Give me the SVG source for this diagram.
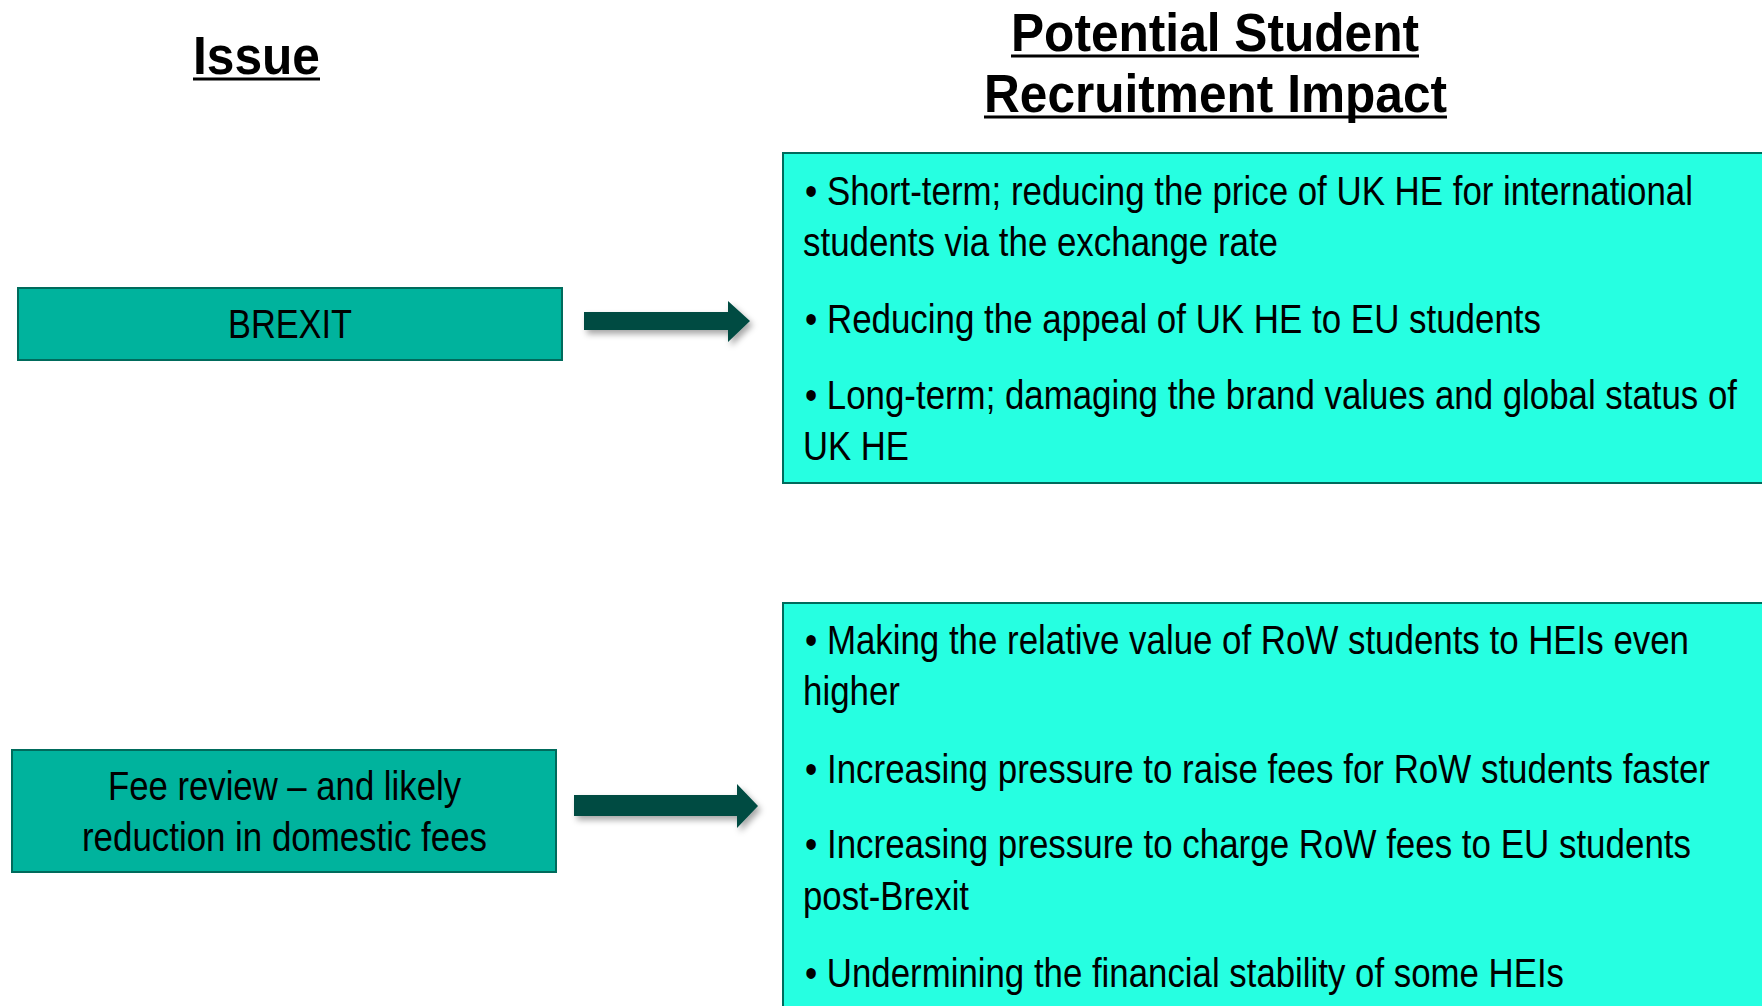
<svg xmlns="http://www.w3.org/2000/svg" width="1762" height="1006" viewBox="0 0 1762 1006">
  <style>
    .title { font-family: "Liberation Sans", Arial, sans-serif; font-weight: bold; font-size: 54px; fill: #000; }
    .uline { stroke: #000; stroke-width: 3; }
    .issue { fill: #00B39D; stroke: #006B5C; stroke-width: 2; }
    .impact { fill: #26FFE1; stroke: #006B5C; stroke-width: 2; }
    .lbl { font-family: "Liberation Sans", Arial, sans-serif; font-size: 41px; fill: #000; }
    .arrow { fill: #004C42; filter: url(#shadow); }
  </style>
  <defs>
    <filter id="shadow" x="-20%" y="-40%" width="140%" height="200%">
      <feDropShadow dx="3" dy="4" stdDeviation="3" flood-color="#000" flood-opacity="0.35"/>
    </filter>
  </defs>
  <rect width="1762" height="1006" fill="#fff"/>

  <!-- column headings -->
  <g id="heading-issue">
    <text class="title" x="193" y="74" textLength="127" lengthAdjust="spacingAndGlyphs">Issue</text>
    <line class="uline" x1="193" y1="79" x2="320" y2="79"/>
  </g>
  <g id="heading-impact">
    <text class="title" x="1011" y="51" textLength="408" lengthAdjust="spacingAndGlyphs">Potential Student</text>
    <line class="uline" x1="1011" y1="56" x2="1419" y2="56"/>
    <text class="title" x="984" y="112" textLength="463" lengthAdjust="spacingAndGlyphs">Recruitment Impact</text>
    <line class="uline" x1="984" y1="117" x2="1447" y2="117"/>
  </g>

  <!-- issue boxes -->
  <g id="issue-brexit">
    <rect class="issue" x="18" y="288" width="544" height="72"/>
    <text class="lbl" x="228" y="338" textLength="124" lengthAdjust="spacingAndGlyphs">BREXIT</text>
  </g>
  <g id="issue-fees">
    <rect class="issue" x="12" y="750" width="544" height="122"/>
    <text class="lbl" x="108" y="800" textLength="353" lengthAdjust="spacingAndGlyphs">Fee review – and likely</text>
    <text class="lbl" x="82" y="851" textLength="405" lengthAdjust="spacingAndGlyphs">reduction in domestic fees</text>
  </g>

  <!-- impact boxes -->
  <g id="impact-brexit">
    <rect class="impact" x="783" y="153" width="990" height="330"/>
    <text class="lbl" x="805" y="205" textLength="888" lengthAdjust="spacingAndGlyphs">• Short-term; reducing the price of UK HE for international</text>
    <text class="lbl" x="803" y="256" textLength="475" lengthAdjust="spacingAndGlyphs">students via the exchange rate</text>
    <text class="lbl" x="805" y="333" textLength="736" lengthAdjust="spacingAndGlyphs">• Reducing the appeal of UK HE to EU students</text>
    <text class="lbl" x="805" y="409" textLength="932" lengthAdjust="spacingAndGlyphs">• Long-term; damaging the brand values and global status of</text>
    <text class="lbl" x="803" y="460" textLength="106" lengthAdjust="spacingAndGlyphs">UK HE</text>
  </g>
  <g id="impact-fees">
    <rect class="impact" x="783" y="603" width="990" height="420"/>
    <text class="lbl" x="805" y="654" textLength="884" lengthAdjust="spacingAndGlyphs">• Making the relative value of RoW students to HEIs even</text>
    <text class="lbl" x="803" y="705" textLength="97" lengthAdjust="spacingAndGlyphs">higher</text>
    <text class="lbl" x="805" y="783" textLength="905" lengthAdjust="spacingAndGlyphs">• Increasing pressure to raise fees for RoW students faster</text>
    <text class="lbl" x="805" y="858" textLength="886" lengthAdjust="spacingAndGlyphs">• Increasing pressure to charge RoW fees to EU students</text>
    <text class="lbl" x="803" y="910" textLength="166" lengthAdjust="spacingAndGlyphs">post-Brexit</text>
    <text class="lbl" x="805" y="987" textLength="759" lengthAdjust="spacingAndGlyphs">• Undermining the financial stability of some HEIs</text>
  </g>

  <!-- connectors -->
  <g id="connectors">
    <polygon class="arrow" points="584,312 728,312 728,301 750,321 728,342 728,330 584,330"/>
    <polygon class="arrow" points="574,795 737,795 737,784 758,806 737,828 737,816 574,816"/>
  </g>
</svg>
